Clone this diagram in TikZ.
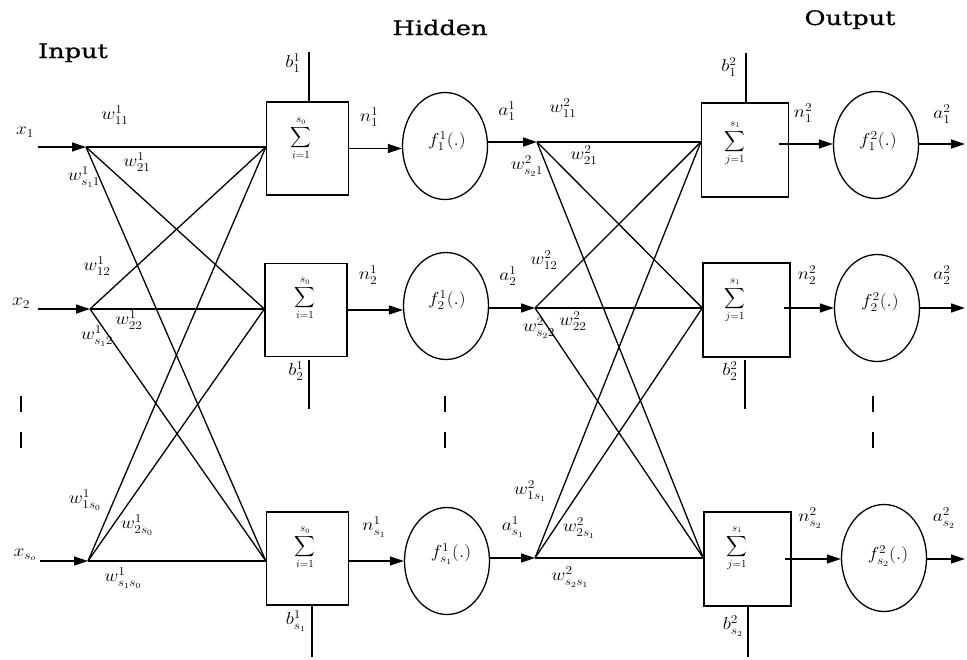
\documentclass[tikz,border=0pt]{standalone}
\usepackage{exscale}
\usepackage{fontspec}
\setmainfont{Liberation Serif}
\newfontfamily\headfont[FakeBold=0.8]{DejaVu Serif}
\usetikzlibrary{arrows.meta,shapes.geometric,calc}
\begin{document}
\begin{tikzpicture}[x=1pt,y=-1pt,
  line width=1.3pt,
  arr/.style={-{Triangle[length=14pt,width=9pt]}},
  sumbox/.style={draw, rectangle, inner sep=0, minimum width=82pt, minimum height=93pt},
  sumboxb/.style={draw, rectangle, inner sep=0, minimum width=87pt, minimum height=94pt},
  neuron/.style={draw, ellipse, inner sep=0, minimum width=85pt, minimum height=107pt},
  lbl/.style={font=\fontsize{17}{19}\selectfont, inner sep=0, xscale=1.12},
  sumlbl/.style={font=\fontsize{15}{18}\selectfont, inner sep=0},
  head/.style={font=\headfont\fontsize{20}{22}\selectfont, inner sep=0, xscale=1.28, anchor=base},
]
\useasboundingbox (0,0) rectangle (967,659);

% headers
\node[head] (hin) at (73,58) {Input};
\node[head] (hhid) at (440,35) {Hidden};
\node[head] (hout) at (850,25) {Output};

% input arrows
\coordinate (i1) at (86,147);
\coordinate (i2) at (90,309);
\coordinate (i3) at (88,561);
\coordinate (x1s) at (38,147);
\coordinate (x2s) at (38,309);
\coordinate (x3s) at (40,561);
\draw[arr] (x1s) -- (i1);
\draw[arr] (x2s) -- (i2);
\draw[arr] (x3s) -- (i3);
\node[lbl] (lx1) at (25,132) {$x_1$};
\node[lbl] (lx2) at (21,303) {$x_2$};
\node[lbl] (lx3) at (25,555) {$x_{s_o}$};

% layer 1 sum boxes
\node[sumbox] (s1) at (307.5,148.5) {};
\node[sumbox] (s2) at (306,310) {};
\node[sumbox] (s3) at (307.5,558.5) {};
\node[sumlbl] (sum1) at (301,138) {$\displaystyle\sum_{i=1}^{s_0}$};
\node[sumlbl] (sum2) at (305,298) {$\displaystyle\sum_{i=1}^{s_0}$};
\node[sumlbl] (sum3) at (305,547) {$\displaystyle\sum_{i=1}^{s_0}$};

\coordinate (t1) at (s1.west |- i1);
\coordinate (t2) at (s2.west |- i2);
\coordinate (t3) at (s3.west |- i3);
\foreach \a in {i1,i2,i3}
  \foreach \b in {t1,t2,t3}
    \draw (\a) -- (\b);

% layer 1 biases
\coordinate (b1e) at (309,52);
\draw (s1.north -| b1e) -- (b1e);
\coordinate (b2s) at (309,360);
\coordinate (b2e) at (309,409);
\draw (b2s) -- (b2e);
\coordinate (b3e) at (312,657);
\draw (s3.south -| b3e) -- (b3e);
\node[lbl] (lb1) at (293,63) {$b_1^1$};
\node[lbl] (lb2) at (296,371) {$b_2^1$};
\node[lbl] (lb3) at (296,621) {$b_{s_1}^1$};

% layer 1 weights
\node[lbl] (w111) at (115,115) {$w_{11}^1$};
\node[lbl] (w121) at (137,162) {$w_{21}^1$};
\node[lbl] (w1s1) at (84,177) {$w_{s_1 1}^1$};
\node[lbl] (w112) at (97,266) {$w_{12}^1$};
\node[lbl] (w122) at (129,320) {$w_{22}^1$};
\node[lbl] (w1s2) at (97,336) {$w_{s_1 2}^1$};
\node[lbl] (w11s) at (85,500) {$w_{1s_0}^1$};
\node[lbl] (w12s) at (137,525) {$w_{2s_0}^1$};
\node[lbl] (w1ss) at (123,578) {$w_{s_1 s_0}^1$};

% layer 1 neurons
\node[neuron] (e1) at (445,146) {};
\node[neuron] (e2) at (446,306) {};
\node[neuron] (e3) at (447,561) {};
\node[lbl] (fe1) at (447,141) {$f_1^1(.)$};
\node[lbl] (fe2) at (447,300) {$f_2^1(.)$};
\node[lbl] (fe3) at (451,554) {$f_{s_1}^1(.)$};
\draw[arr] (s1.east) -- (s1.east -| e1.west);
\draw[arr] (s2.east) -- (s2.east -| e2.west);
\draw[arr] (s3.east |- i3) -- (i3 -| e3.west);
\node[lbl] (ln1) at (369,117) {$n_1^1$};
\node[lbl] (ln2) at (368,275) {$n_2^1$};
\node[lbl] (ln3) at (374,527) {$n_{s_1}^1$};

% layer 2 fan points
\coordinate (h1) at (537,142);
\coordinate (h2) at (535,308);
\coordinate (h3) at (535,558);
\draw[arr] (h1 -| e1.east) -- (h1);
\draw[arr] (h2 -| e2.east) -- (h2);
\draw[arr] (h3 -| e3.east) -- (h3);
\node[lbl] (la1) at (507,111) {$a_1^1$};
\node[lbl] (la2) at (508,276) {$a_2^1$};
\node[lbl] (la3) at (513,527) {$a_{s_1}^1$};

% layer 2 sum boxes
\node[sumboxb] (s4) at (745,150) {};
\node[sumboxb] (s5) at (746.5,310) {};
\node[sumboxb] (s6) at (747.5,559) {};
\node[sumlbl] (sum4) at (735,143) {$\displaystyle\sum_{j=1}^{s_1}$};
\node[sumlbl] (sum5) at (735,300) {$\displaystyle\sum_{j=1}^{s_1}$};
\node[sumlbl] (sum6) at (737,548) {$\displaystyle\sum_{j=1}^{s_1}$};

\coordinate (t4) at (s4.west |- h1);
\coordinate (t5) at (s5.west |- h2);
\coordinate (t6) at (s6.west |- h3);
\foreach \a in {h1,h2,h3}
  \foreach \b in {t4,t5,t6}
    \draw (\a) -- (\b);

% layer 2 biases
\coordinate (b4e) at (746,53);
\draw (s4.north -| b4e) -- (b4e);
\coordinate (b5s) at (745,360);
\coordinate (b5e) at (745,409);
\draw (b5s) -- (b5e);
\coordinate (b6e) at (748,657);
\draw (s6.south -| b6e) -- (b6e);
\node[lbl] (lb4) at (729,67) {$b_1^2$};
\node[lbl] (lb5) at (730,371) {$b_2^2$};
\node[lbl] (lb6) at (733,626) {$b_{s_2}^2$};

% layer 2 weights
\node[lbl] (w211) at (563,108) {$w_{11}^2$};
\node[lbl] (w221) at (584,155) {$w_{21}^2$};
\node[lbl] (w2s1) at (527,166) {$w_{s_2 1}^2$};
\node[lbl] (w212) at (544,260) {$w_{12}^2$};
\node[lbl] (w222) at (573,321) {$w_{22}^2$};
\node[lbl] (w2s2) at (539,328) {$w_{s_2 2}^2$};
\node[lbl] (w21s) at (530,491) {$w_{1s_1}^2$};
\node[lbl] (w22s) at (579,528) {$w_{2s_1}^2$};
\node[lbl] (w2ss) at (570,577) {$w_{s_2 s_1}^2$};

% layer 2 neurons
\node[neuron] (f4) at (876,145) {};
\node[neuron] (f5) at (877,308) {};
\node[neuron] (f6) at (884,558) {};
\node[lbl] (ff4) at (878,141) {$f_1^2(.)$};
\node[lbl] (ff5) at (880,302) {$f_2^2(.)$};
\node[lbl] (ff6) at (888,556) {$f_{s_2}^2(.)$};
\coordinate (u4) at (779,144);
\coordinate (u5) at (784,308);
\coordinate (u6) at (785,559);
\draw[arr] (u4) -- (u4 -| f4.west);
\draw[arr] (u5) -- (u5 -| f5.west);
\draw[arr] (u6) -- (u6 -| f6.west);
\node[lbl] (ln4) at (803,113) {$n_1^2$};
\node[lbl] (ln5) at (807,275) {$n_2^2$};
\node[lbl] (ln6) at (810,518) {$n_{s_2}^2$};

% outputs
\coordinate (a4) at (965,144);
\coordinate (a5) at (965,308);
\coordinate (a6) at (965,559);
\draw[arr] (f4.east |- a4) -- (a4);
\draw[arr] (f5.east |- a5) -- (a5);
\draw[arr] (f6.east |- a6) -- (a6);
\node[lbl] (la4) at (942,114) {$a_1^2$};
\node[lbl] (la5) at (942,275) {$a_2^2$};
\node[lbl] (la6) at (944,518) {$a_{s_2}^2$};

% ellipsis bars
\foreach \xx in {21,445,873} {
  \coordinate (d1\xx) at (\xx,396);
  \coordinate (d2\xx) at (\xx,412);
  \coordinate (d3\xx) at (\xx,432);
  \coordinate (d4\xx) at (\xx,448);
  \draw (d1\xx) -- (d2\xx);
  \draw (d3\xx) -- (d4\xx);
}
\end{tikzpicture}
\end{document}
